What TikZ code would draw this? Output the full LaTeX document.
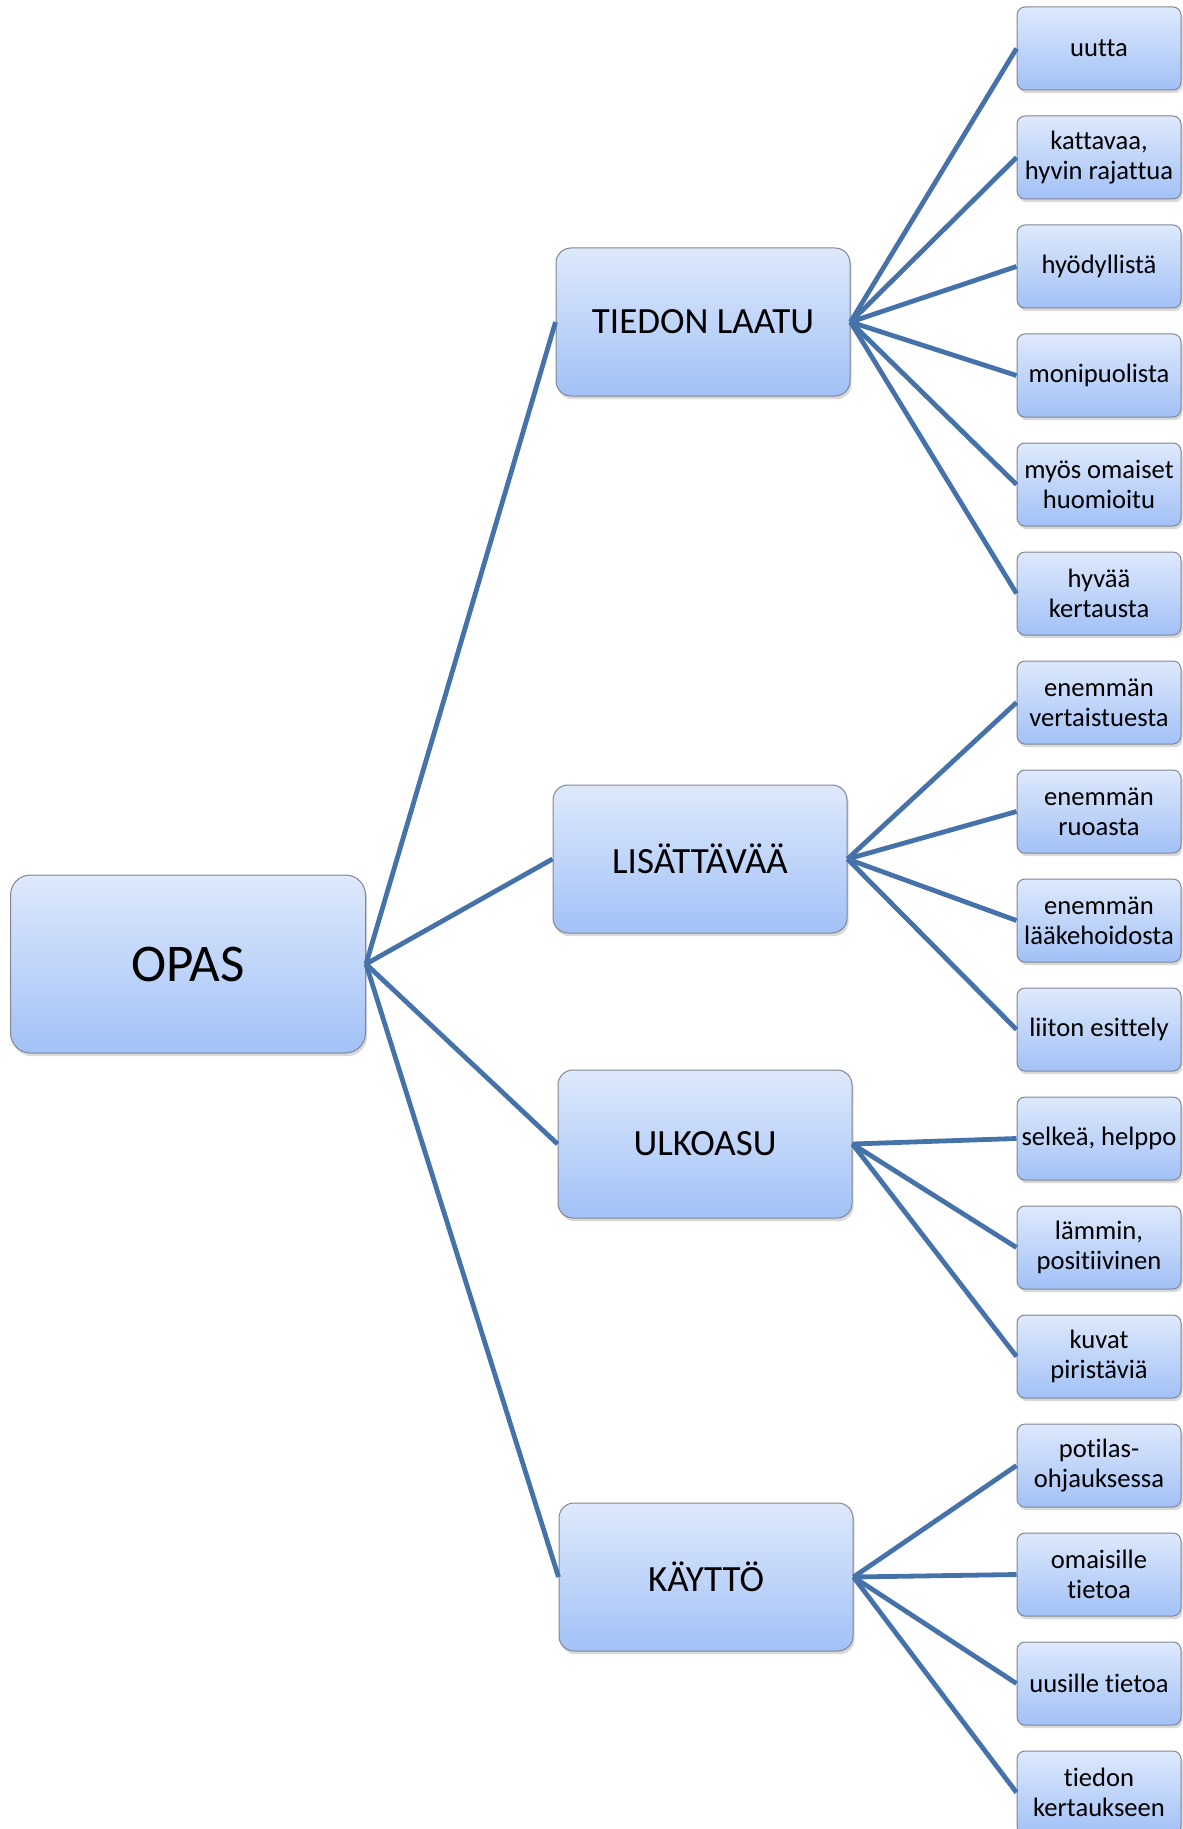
\documentclass[tikz,border=0pt]{standalone}
\usepackage{fontspec}
\setmainfont{Carlito}[Ligatures=NoCommon]
\usetikzlibrary{shadows}
\definecolor{linkblue}{RGB}{70,114,170}
\definecolor{boxtop}{RGB}{222,233,252}
\definecolor{boxbottom}{RGB}{162,193,247}
\definecolor{boxedge}{RGB}{128,134,146}
\tikzset{
  box/.style={
    draw=boxedge,
    line width=0.5pt,
    top color=boxtop,
    bottom color=boxbottom,
    align=center,
    inner sep=0pt,
    drop shadow={shadow xshift=0.8pt, shadow yshift=-1.6pt, opacity=0.3}
  },
  rootbox/.style={
    box,
    rounded corners=10pt,
    minimum width=177.5pt,
    minimum height=89pt,
    font=\fontsize{26.5}{31}\selectfont
  },
  topicbox/.style={
    box,
    rounded corners=7.5pt,
    minimum width=147pt,
    minimum height=74pt,
    font=\fontsize{18.5}{22}\selectfont
  },
  leafbox/.style={
    box,
    rounded corners=4pt,
    minimum width=82pt,
    minimum height=41.5pt,
    font=\fontsize{13.3}{15}\selectfont
  },
  link/.style={
    draw=linkblue,
    line width=2.4pt
  }
}
\begin{document}
\begin{tikzpicture}[x=0.5pt,y=-0.5pt]
  \path[use as bounding box] (0,0) rectangle (1182,1829);
  % root and topics
  \node[rootbox] (opas) at (188,964) {OPAS};
  \node[topicbox] (laatu) at (703,322) {TIEDON LAATU};
  \node[topicbox] (lisa) at (700,859) {LISÄTTÄVÄÄ};
  \node[topicbox] (ulko) at (705,1144) {ULKOASU};
  \node[topicbox] (kaytto) at (706,1577) {KÄYTTÖ};
  % leaves
  \node[leafbox] (uutta) at (1099,48.5) {uutta};
  \node[leafbox] (kattavaa) at (1099,157.5) {kattavaa,\\hyvin rajattua};
  \node[leafbox] (hyodyl) at (1099,266.5) {hyödyllistä};
  \node[leafbox] (monip) at (1099,375.5) {monipuolista};
  \node[leafbox] (omaiset) at (1099,484.5) {myös omaiset\\huomioitu};
  \node[leafbox] (kertaus) at (1099,593.5) {hyvää\\kertausta};
  \node[leafbox] (vertais) at (1099,702.5) {enemmän\\vertaistuesta};
  \node[leafbox] (ruoka) at (1099,811.5) {enemmän\\ruoasta};
  \node[leafbox] (laake) at (1099,920.5) {enemmän\\lääkehoidosta};
  \node[leafbox] (liitto) at (1099,1029.5) {liiton esittely};
  \node[leafbox] (selkea) at (1099,1138.5) {selkeä, helppo};
  \node[leafbox] (lammin) at (1099,1247.5) {lämmin,\\positiivinen};
  \node[leafbox] (kuvat) at (1099,1356.5) {kuvat\\piristäviä};
  \node[leafbox] (ohjaus) at (1099,1465.5) {potilas-\\ohjauksessa};
  \node[leafbox] (omaisille) at (1099,1574.5) {omaisille\\tietoa};
  \node[leafbox] (uusille) at (1099,1683.5) {uusille tietoa};
  \node[leafbox] (kertaukseen) at (1099,1792.5) {tiedon\\kertaukseen};
  % links
  \draw[link] (opas.east) -- (laatu.west);
  \draw[link] (opas.east) -- (lisa.west);
  \draw[link] (opas.east) -- (ulko.west);
  \draw[link] (opas.east) -- (kaytto.west);
  \draw[link] (laatu.east) -- (uutta.west);
  \draw[link] (laatu.east) -- (kattavaa.west);
  \draw[link] (laatu.east) -- (hyodyl.west);
  \draw[link] (laatu.east) -- (monip.west);
  \draw[link] (laatu.east) -- (omaiset.west);
  \draw[link] (laatu.east) -- (kertaus.west);
  \draw[link] (lisa.east) -- (vertais.west);
  \draw[link] (lisa.east) -- (ruoka.west);
  \draw[link] (lisa.east) -- (laake.west);
  \draw[link] (lisa.east) -- (liitto.west);
  \draw[link] (ulko.east) -- (selkea.west);
  \draw[link] (ulko.east) -- (lammin.west);
  \draw[link] (ulko.east) -- (kuvat.west);
  \draw[link] (kaytto.east) -- (ohjaus.west);
  \draw[link] (kaytto.east) -- (omaisille.west);
  \draw[link] (kaytto.east) -- (uusille.west);
  \draw[link] (kaytto.east) -- (kertaukseen.west);
\end{tikzpicture}
\end{document}
